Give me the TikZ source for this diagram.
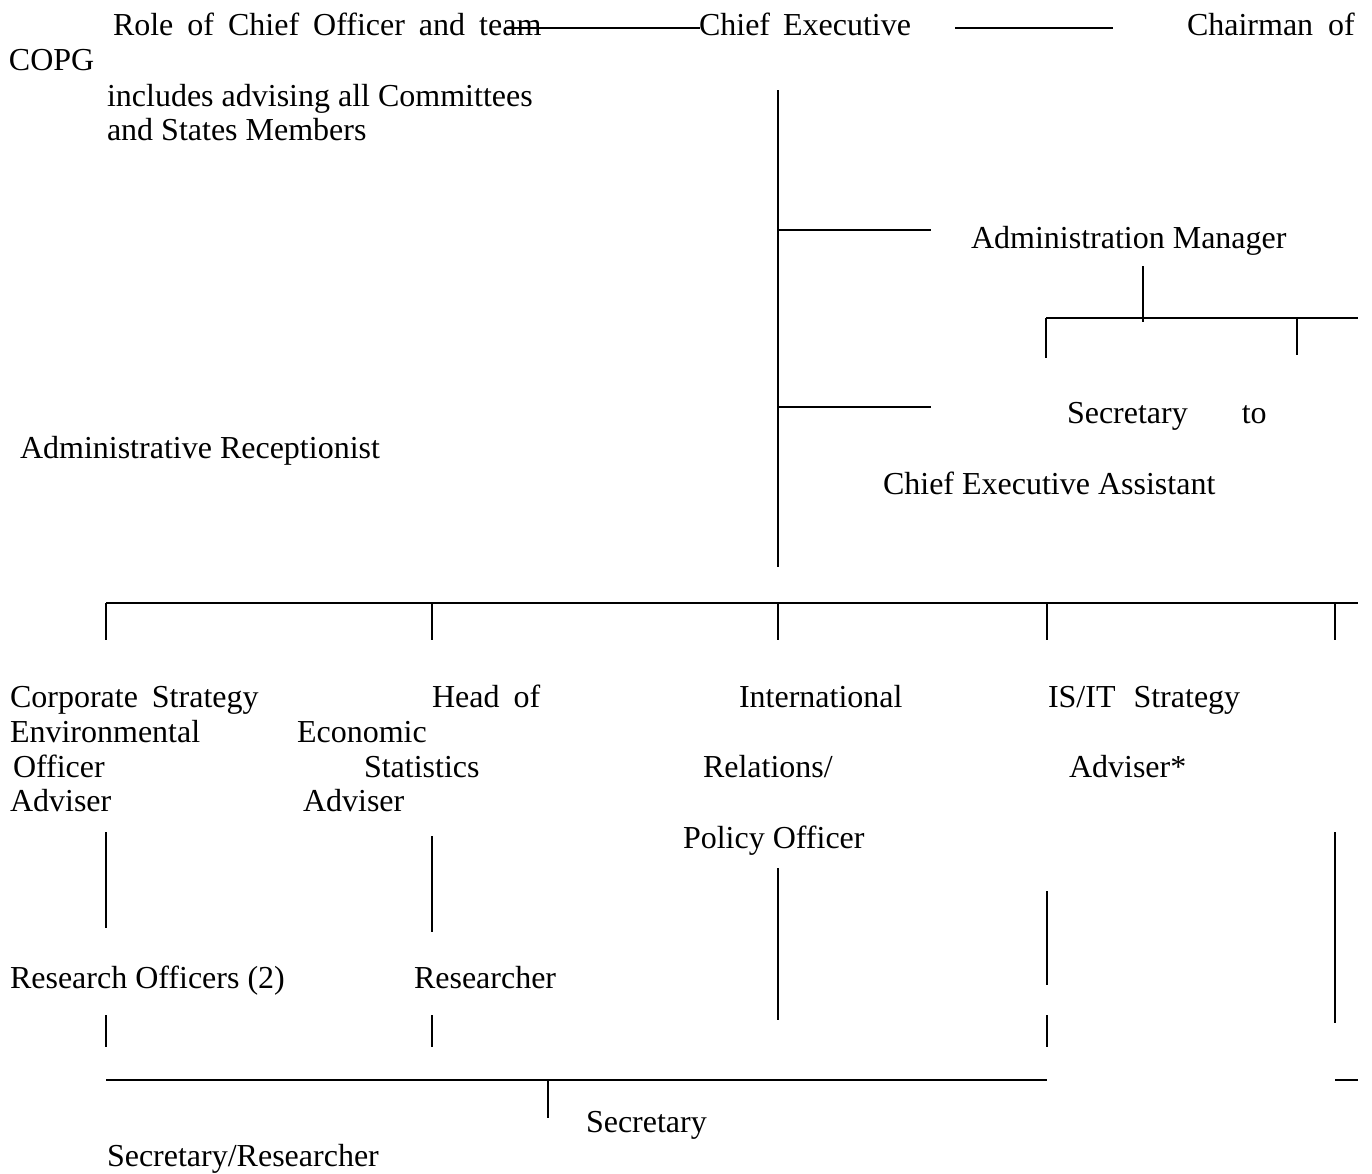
\documentclass[tikz,border=0pt]{standalone}
\usepackage{fontspec}
\setmainfont{Liberation Serif}
\begin{document}
\begin{tikzpicture}[x=1pt,y=-1pt,
  lbl/.style={anchor=base west,inner sep=0pt,outer sep=0pt,font=\fontsize{32}{37}\selectfont},
  wsp/.style={execute at begin node={\spaceskip=#1\relax}},
  ln/.style={line width=1.8pt}]
\useasboundingbox (0,0) rectangle (1372,1173);
% texts
\node[lbl,wsp=14pt] (role) at (113,35) {Role of Chief Officer and team};
\node[lbl,wsp=13pt] (ce) at (699,35) {Chief Executive};
\node[lbl,wsp=15pt] (chair) at (1187,35) {Chairman of};
\node[lbl] (copg) at (9,70) {COPG};
\node[lbl] (inc1) at (107,106) {includes advising all Committees};
\node[lbl] (inc2) at (107,140) {and States Members};
\node[lbl] (am) at (971,248) {Administration Manager};
\node[lbl] (sec) at (1067,423) {Secretary\hspace{54pt}to};
\node[lbl] (ar) at (20,458) {Administrative Receptionist};
\node[lbl] (cea) at (883,494) {Chief Executive Assistant};
\node[lbl,wsp=14pt] (cs) at (10,707) {Corporate Strategy};
\node[lbl,wsp=14pt] (hd) at (432,707) {Head of};
\node[lbl] (intl) at (739,707) {International};
\node[lbl,wsp=18pt] (isit) at (1048,707) {IS/IT Strategy};
\node[lbl] (env) at (10,742) {Environmental};
\node[lbl] (eco) at (297,742) {Economic};
\node[lbl] (off) at (13,777) {Officer};
\node[lbl] (stat) at (364,777) {Statistics};
\node[lbl] (rel) at (703,777) {Relations/};
\node[lbl] (adv4) at (1069,777) {Adviser*};
\node[lbl] (adv1) at (10,811) {Adviser};
\node[lbl] (adv2) at (303,811) {Adviser};
\node[lbl] (pol) at (683,848) {Policy Officer};
\node[lbl] (ro) at (10,988) {Research Officers (2)};
\node[lbl] (res) at (414,988) {Researcher};
\node[lbl] (sec2) at (586,1132) {Secretary};
\node[lbl] (secres) at (107,1166) {Secretary/Researcher};
% coordinates
\coordinate (t1) at (507,28); \coordinate (t2) at (700,28);
\coordinate (t3) at (955,28); \coordinate (t4) at (1113,28);
\coordinate (s1) at (778,90); \coordinate (s2) at (778,567);
\coordinate (b1) at (778,230); \coordinate (b2) at (931,230);
\coordinate (m1) at (1143,266); \coordinate (m2) at (1143,322);
\coordinate (h1) at (1046,318); \coordinate (h2) at (1358,318);
\coordinate (d1) at (1046,358); \coordinate (d2a) at (1297,318); \coordinate (d2) at (1297,355);
\coordinate (c1) at (778,407); \coordinate (c2) at (931,407);
\coordinate (r1) at (106,603); \coordinate (r2) at (1358,603);
\foreach \n/\x in {a/106,b/432,c/778,d/1047,e/1335}{
  \coordinate (u\n1) at (\x,603); \coordinate (u\n2) at (\x,640);}
\coordinate (va1) at (106,832); \coordinate (va2) at (106,928);
\coordinate (vb1) at (432,836); \coordinate (vb2) at (432,932);
\coordinate (vc1) at (778,868); \coordinate (vc2) at (778,1020);
\coordinate (vd1) at (1047,891); \coordinate (vd2) at (1047,985);
\coordinate (ve1) at (1335,832); \coordinate (ve2) at (1335,1023);
\coordinate (wa1) at (106,1015); \coordinate (wa2) at (106,1047);
\coordinate (wb1) at (432,1015); \coordinate (wb2) at (432,1047);
\coordinate (wd1) at (1047,1015); \coordinate (wd2) at (1047,1047);
\coordinate (f1) at (106,1080); \coordinate (f2) at (1047,1080);
\coordinate (g1) at (1335,1080); \coordinate (g2) at (1358,1080);
\coordinate (k1) at (548,1080); \coordinate (k2) at (548,1118);
% lines
\draw[ln] (t1) -- (t2);
\draw[ln] (t3) -- (t4);
\draw[ln] (s1) -- (s2);
\draw[ln] (b1) -- (b2);
\draw[ln] (m1) -- (m2);
\draw[ln] (h1) -- (h2);
\draw[ln] (h1) -- (d1);
\draw[ln] (d2a) -- (d2);
\draw[ln] (c1) -- (c2);
\draw[ln] (r1) -- (r2);
\foreach \n in {a,b,c,d,e}{\draw[ln] (u\n1) -- (u\n2);}
\draw[ln] (va1) -- (va2);
\draw[ln] (vb1) -- (vb2);
\draw[ln] (vc1) -- (vc2);
\draw[ln] (vd1) -- (vd2);
\draw[ln] (ve1) -- (ve2);
\draw[ln] (wa1) -- (wa2);
\draw[ln] (wb1) -- (wb2);
\draw[ln] (wd1) -- (wd2);
\draw[ln] (f1) -- (f2);
\draw[ln] (g1) -- (g2);
\draw[ln] (k1) -- (k2);
\end{tikzpicture}
\end{document}
